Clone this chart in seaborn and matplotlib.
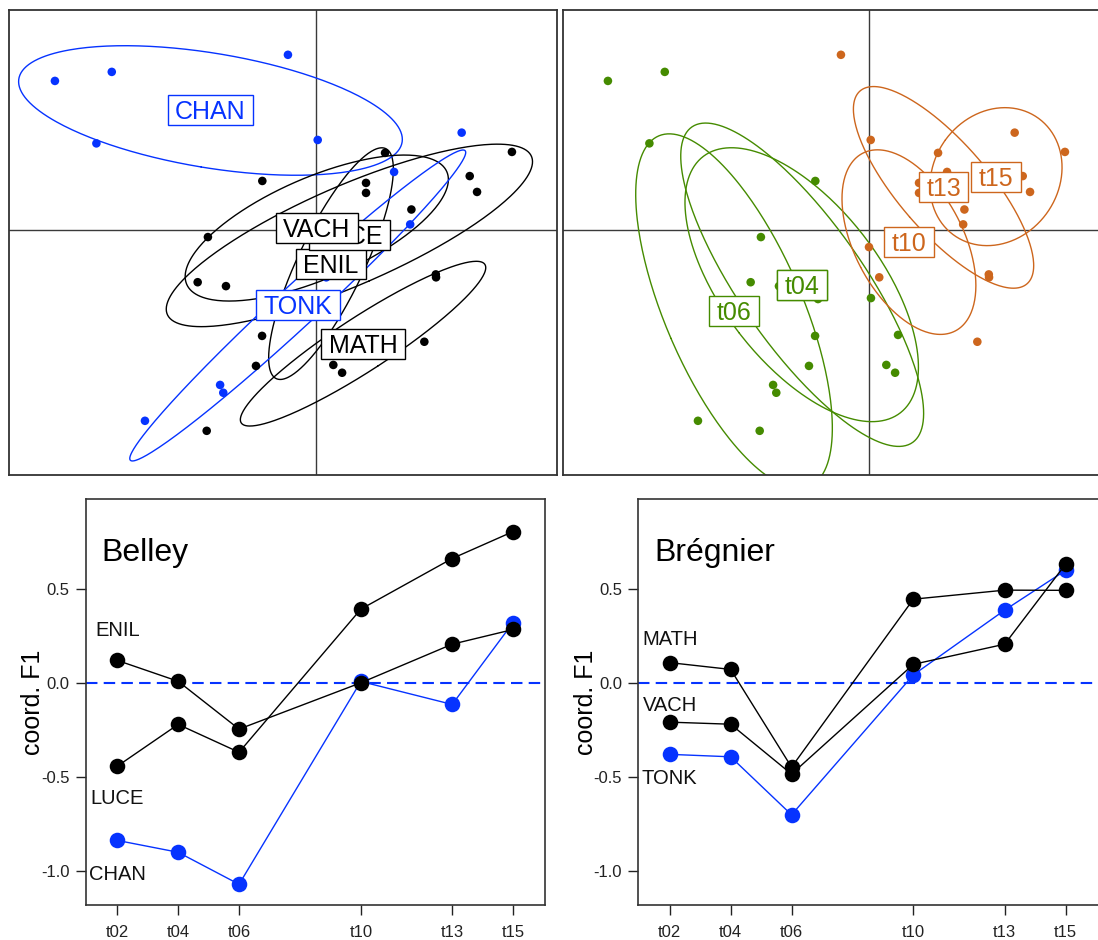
import numpy as np
import pandas as pd
import matplotlib
matplotlib.use("Agg")
import matplotlib.pyplot as plt
import matplotlib.transforms as mtransforms
from matplotlib.patches import Rectangle
import seaborn as sns

# ---------------- data ----------------
times = ["t02", "t04", "t06", "t10", "t13", "t15"]
time_num = [2, 4, 6, 10, 13, 15]
sites = ["ENIL", "LUCE", "CHAN", "MATH", "VACH", "TONK"]
station_sites = {"Belley": ["ENIL", "LUCE", "CHAN"],
                 "Brégnier": ["MATH", "VACH", "TONK"]}

ENIL_F1 = [0.119, 0.008, -0.246, 0.000, 0.205, 0.283]
ENIL_F2 = [-0.430, -0.279, -0.557, -0.070, 0.193, 0.316]
LUCE_F1 = [-0.443, -0.221, -0.369, 0.391, 0.660, 0.803]
LUCE_F2 = [-0.029, -0.434, -0.230, 0.084, 0.156, 0.320]
CHAN_F1 = [-0.837, -0.900, -1.070, 0.007, -0.115, 0.320]
CHAN_F2 = [0.648, 0.355, 0.611, 0.369, 0.718, 0.238]
MATH_F1 = [0.107, 0.071, -0.448, 0.444, 0.492, 0.491]
MATH_F2 = [-0.585, -0.553, -0.823, -0.458, -0.194, -0.182]
VACH_F1 = [-0.209, -0.220, -0.485, 0.098, 0.205, 0.630]
VACH_F2 = [-0.283, 0.201, -0.214, -0.029, 0.152, 0.221]
TONK_F1 = [-0.380, -0.393, -0.701, 0.042, 0.386, 0.597]
TONK_F2 = [-0.667, -0.635, -0.782, -0.194, 0.023, 0.399]

F1 = {"ENIL": ENIL_F1, "LUCE": LUCE_F1, "CHAN": CHAN_F1,
      "MATH": MATH_F1, "VACH": VACH_F1, "TONK": TONK_F1}
F2 = {"ENIL": ENIL_F2, "LUCE": LUCE_F2, "CHAN": CHAN_F2,
      "MATH": MATH_F2, "VACH": VACH_F2, "TONK": TONK_F2}

rows = []
for s in sites:
    for i, t in enumerate(times):
        rows.append({"site": s, "time": t, "tnum": time_num[i],
                     "F1": F1[s][i], "F2": F2[s][i]})
df = pd.DataFrame(rows)

# ---------------- style ----------------
BLUE = "#0633ff"
GREEN = "#458b00"
ORANGE = "#cd661d"
BLACK = "#000000"
site_colors = {"ENIL": BLACK, "LUCE": BLACK, "CHAN": BLUE,
               "MATH": BLACK, "VACH": BLACK, "TONK": BLUE}
time_colors = {"t02": GREEN, "t04": GREEN, "t06": GREEN,
               "t10": ORANGE, "t13": ORANGE, "t15": ORANGE}
label_offsets = {"ENIL": 0.168, "LUCE": -0.165, "CHAN": -0.172,
                 "MATH": 0.132, "VACH": 0.100, "TONK": -0.120}

sns.set_theme(style="white")
plt.rcParams["font.family"] = ["Liberation Sans", "DejaVu Sans"]
plt.rcParams["axes.unicode_minus"] = False

W, H = 1098, 940
fig = plt.figure(figsize=(W / 100, H / 100), dpi=100)


def px_axes(x0, y0, x1, y1):
    return fig.add_axes([x0 / W, 1 - y1 / H, (x1 - x0) / W, (y1 - y0) / H])


def ellipse_xy(x, y, k=1.5, n=300):
    x = np.asarray(x, float)
    y = np.asarray(y, float)
    cov = np.cov(x, y, bias=True)
    vals, vecs = np.linalg.eigh(cov)
    t = np.linspace(0, 2 * np.pi, n)
    circ = np.vstack([np.cos(t), np.sin(t)])
    pts = vecs @ (np.sqrt(np.maximum(vals, 0))[:, None] * circ) * k
    return x.mean() + pts[0], y.mean() + pts[1]


pending_boxes = []


def add_label(ax, x, y, text, color, fs=18, z=10):
    cap = 0.716 * fs * 100 / 72
    tr = mtransforms.offset_copy(ax.transData, fig=fig, x=0, y=-cap / 2,
                                 units="dots")
    t = ax.text(x, y, text, ha="center", va="baseline", color=color,
                fontsize=fs, transform=tr, zorder=z + 0.5)
    pending_boxes.append((ax, x, y, t, color, z))


def scatter_panel(ax, group_col, order, colors, xlim, ylim):
    for g in order:
        sub = df[df[group_col] == g]
        ex, ey = ellipse_xy(sub["F1"], sub["F2"])
        ax.plot(ex, ey, color=colors[g], lw=1.0, zorder=2)
    sns.scatterplot(data=df, x="F1", y="F2", hue=group_col, palette=colors,
                    s=38, linewidth=0, legend=False, ax=ax, zorder=3)
    ax.axhline(0, color="#3a3a3a", lw=1.0, zorder=1)
    ax.axvline(0, color="#3a3a3a", lw=1.0, zorder=1)
    ax.set_xlim(*xlim)
    ax.set_ylim(*ylim)
    ax.set_xticks([])
    ax.set_yticks([])
    ax.set_xlabel("")
    ax.set_ylabel("")
    for sp in ax.spines.values():
        sp.set_color("#333333")
        sp.set_linewidth(1.3)
    z = 10
    for g in sorted(order):
        sub = df[df[group_col] == g]
        add_label(ax, sub["F1"].mean(), sub["F2"].mean(), g, colors[g], z=z)
        z += 1


ppu = 244.0
ylim_top = ((230 - 475) / ppu, (230 - 10) / ppu)

ax1 = px_axes(9, 10, 557, 475)
scatter_panel(ax1, "site", sites, site_colors,
              ((9 - 316) / ppu, (557 - 316) / ppu), ylim_top)

ax2 = px_axes(563, 10, 1101, 475)
scatter_panel(ax2, "time", times, time_colors,
              ((563 - 869) / ppu, (1101 - 869) / ppu), ylim_top)

# ---------------- bottom panels ----------------
yticks = [0.5, 0.0, -0.5, -1.0]


def line_panel(ax, station):
    s_list = station_sites[station]
    blue_first = [s for s in s_list if site_colors[s] == BLUE] + \
                 [s for s in s_list if site_colors[s] != BLUE]
    sub = df[df["site"].isin(s_list)]
    ax.axhline(0, color=BLUE, lw=1.5, dashes=(5.5, 3.0), zorder=1)
    sns.lineplot(data=sub, x="tnum", y="F1", hue="site", hue_order=blue_first,
                 palette=site_colors, marker="o", markersize=11.2,
                 markeredgewidth=0, lw=1.0, legend=False, ax=ax, sort=False,
                 zorder=3)
    for s in s_list:
        v = F1[s][0] + label_offsets[s]
        fs = 14.5
        cap = 0.716 * fs * 100 / 72
        tr = mtransforms.offset_copy(ax.transData, fig=fig, x=0, y=-cap / 2,
                                     units="dots")
        ax.text(time_num[0], v, s, ha="center", va="baseline", fontsize=fs,
                color="#111111", transform=tr, zorder=5)
    ax.text(0.034, 0.848, station, transform=ax.transAxes, ha="left",
            va="baseline", fontsize=23, color=BLACK)
    ax.set_xticks(time_num)
    ax.set_xticklabels(times)
    ax.set_yticks(yticks)
    ax.set_yticklabels([f"{v:.1f}" for v in yticks])
    ax.tick_params(axis="both", which="both", bottom=True, left=True,
                   direction="out", length=7.5, width=1.0, labelsize=12,
                   colors="#222222")
    ax.tick_params(axis="x", pad=7)
    ax.tick_params(axis="y", pad=4)
    ax.set_xlabel("")
    ax.set_ylabel("coord. F1", fontsize=18, labelpad=-3, color=BLACK)
    for sp in ax.spines.values():
        sp.set_color("#333333")
        sp.set_linewidth(1.2)


xppu = 30.45
ax3 = px_axes(85.7, 499, 545, 905)
line_panel(ax3, "Belley")
ax3.set_xlim(0.964, 0.964 + (545 - 85.7) / xppu)
ax3.set_ylim(-1.18, 0.976)

ax4 = px_axes(638.2, 499, 1101, 905)
line_panel(ax4, "Brégnier")
ax4.set_xlim(0.964, 0.964 + (1101 - 638.2) / xppu)
ax4.set_ylim(-1.18, 0.976)

# ---------------- label boxes ----------------
fig.canvas.draw()
renderer = fig.canvas.get_renderer()
padx, boxh = 7.5, 30.0
for ax, x, y, t, color, z in pending_boxes:
    w = t.get_window_extent(renderer).width
    cx, cy = ax.transData.transform((x, y))
    inv = ax.transData.inverted()
    (x0, y0) = inv.transform((cx - w / 2 - padx, cy - boxh / 2))
    (x1, y1) = inv.transform((cx + w / 2 + padx, cy + boxh / 2))
    ax.add_patch(Rectangle((x0, y0), x1 - x0, y1 - y0, facecolor="white",
                           edgecolor=color, lw=1.0, zorder=z))

fig.savefig("out.png", dpi=100)
